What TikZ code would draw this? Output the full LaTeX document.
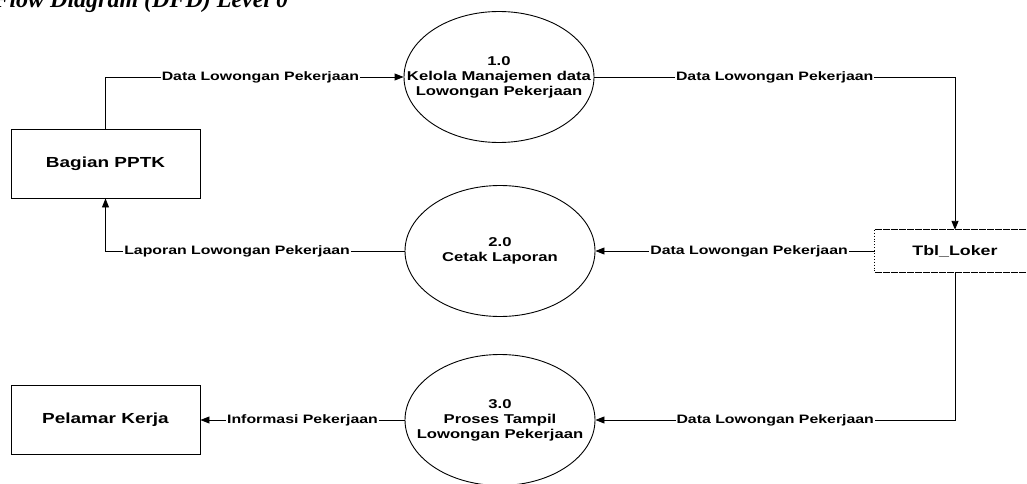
\documentclass[tikz,border=0pt]{standalone}
\usepackage{fontspec}
\usetikzlibrary{arrows.meta,shapes.geometric}
\newfontfamily\dfdfont[FakeStretch=1.3]{Liberation Sans}
\newfontfamily\titlefont{Liberation Serif}

\tikzset{
  flow/.style={line width=0.9pt, -{Triangle[length=9pt,width=7pt]}},
  lbl/.style={fill=white, inner sep=1pt, font=\dfdfont\bfseries\fontsize{12.2}{14}\selectfont},
  proc/.style={draw, line width=0.9pt, ellipse, minimum width=190pt, minimum height=131pt, inner sep=0pt},
  ptext/.style={align=center, inner sep=0pt, font=\dfdfont\bfseries\fontsize{12.8}{15}\selectfont},
  entity/.style={draw, line width=0.9pt, rectangle, minimum width=189pt, minimum height=69pt,
    font=\dfdfont\bfseries\fontsize{14.6}{17}\selectfont},
  store/.style={rectangle, minimum width=160pt, minimum height=42pt,
    font=\dfdfont\bfseries\fontsize{13.7}{16}\selectfont},
  storeline/.style={line width=0.9pt, dash pattern=on 7pt off 1pt}
}

\begin{document}
\begin{tikzpicture}[x=1pt, y=-1pt]  % pixel coordinates, y grows downwards
    \useasboundingbox (0,0) rectangle (1027,484);

    % Title (cut off at the top of the page)
    \node[anchor=base west, inner sep=0pt, font=\titlefont\bfseries\itshape\fontsize{24}{26}\selectfont]
        (title) at (50,8) {\llap{Data Flow }Diagram (DFD) Level 0};

    % External entities
    \node[entity] (pptk) at (105.5,163.5) {Bagian PPTK};
    \node[entity] (pelamar) at (105.5,420) {Pelamar Kerja};

    % Processes
    \node[proc, label={[ptext]center:{1.0\\Kelola Manajemen data\\Lowongan Pekerjaan}}] (p1) at (499,77) {};
    \node[proc, label={[ptext]center:{2.0\\Cetak Laporan}}] (p2) at (500,251) {};
    \node[proc, label={[ptext]center:{3.0\\Proses Tampil\\Lowongan Pekerjaan}}] (p3) at (500,420) {};

    % Data store (open on the right)
    \node[store] (loker) at (955,251) {Tbl\_Loker};
    \draw[storeline] (loker.north west) -- (loker.north east);
    \draw[storeline] (loker.south west) -- (loker.south east);
    \draw[line width=0.9pt, dotted] (loker.north west) -- (loker.south west);

    % Data flows
    \draw[flow] (pptk.north) |- (p1.west) node[lbl, pos=0.76] {Data Lowongan Pekerjaan};
    \draw[flow] (p1.east) -| (loker.north) node[lbl, pos=0.25] {Data Lowongan Pekerjaan};
    \draw[flow] (loker.west) -- (p2.east) node[lbl, pos=0.45] {Data Lowongan Pekerjaan};
    \draw[flow] (p2.west) -| (pptk.south) node[lbl, pos=0.28] {Laporan Lowongan Pekerjaan};
    \draw[flow] (loker.south) |- (p3.east) node[lbl, pos=0.75] {Data Lowongan Pekerjaan};
    \draw[flow] (p3.west) -- (pelamar.east) node[lbl, midway] {Informasi Pekerjaan};
\end{tikzpicture}
\end{document}
